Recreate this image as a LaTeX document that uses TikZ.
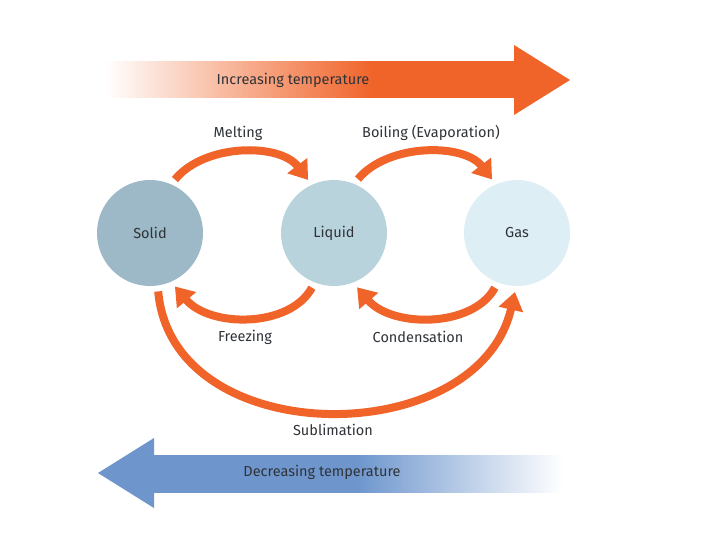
\documentclass[tikz,border=0pt]{standalone}
\usepackage{fontspec}
\setmainfont{Fira Sans}
\usetikzlibrary{arrows.meta}
\definecolor{org}{HTML}{F0642A}
\definecolor{blu}{HTML}{6E96CD}
\definecolor{txt}{HTML}{2F3338}
\definecolor{csolid}{HTML}{9DB8C6}
\definecolor{cliquid}{HTML}{B9D3DD}
\definecolor{cgas}{HTML}{DEEEF5}
\pgfdeclarehorizontalshading{incshade}{100bp}{color(0bp)=(white); color(25bp)=(white); color(57.5bp)=(org); color(100bp)=(org)}
\pgfdeclarehorizontalshading{decshade}{100bp}{color(0bp)=(blu); color(50bp)=(blu); color(75bp)=(white); color(100bp)=(white)}
\begin{document}
\begin{tikzpicture}[x=1pt,y=-1pt,
  lbl/.style={text=txt,font=\fontsize{14.5}{17}\selectfont},
  phase/.style={circle,minimum size=106pt,inner sep=0pt,outer sep=6pt,text=txt,font=\fontsize{14.5}{17}\selectfont},
  trans/.style={draw=org,line width=8pt,-{Triangle[width=24pt,length=18pt]}}]
\useasboundingbox[fill=white] (0,0) rectangle (720,540);
% increasing temperature arrow
\shade[shading=incshade,draw=none] (105,62) rectangle (516,98);
\fill[org] (514,45) -- (570,80) -- (514,115) -- cycle;
\node[lbl] (inc) at (293,80) {Increasing temperature};
% decreasing temperature arrow
\shade[shading=decshade,draw=none] (152,455) rectangle (562,492);
\fill[blu] (154,438) -- (98,473) -- (154,508) -- cycle;
\node[lbl] (dec) at (322,472) {Decreasing temperature};
% phases
\node[phase,fill=csolid] (solid) at (150,233) {Solid};
\node[phase,fill=cliquid] (liquid) at (334,233) {Liquid};
\node[phase,fill=cgas] (gas) at (517,233) {Gas};
% transitions
\draw[trans] (solid.65) .. controls (205,143) and (280,143) .. (liquid.116);
\draw[trans] (liquid.66) .. controls (388,143) and (464,143) .. (gas.115);
\draw[trans] (liquid.248) .. controls (290,328) and (210,328) .. (solid.295);
\draw[trans] (gas.248) .. controls (473,328) and (392,328) .. (liquid.293);
\draw[trans] (solid.278) .. controls (172,452) and (478,452) .. (gas.268);
% labels
\node[lbl] (melt) at (238,133) {Melting};
\node[lbl] (boil) at (431,133) {Boiling (Evaporation)};
\node[lbl] (freeze) at (245,337) {Freezing};
\node[lbl] (cond) at (418,337) {Condensation};
\node[lbl] (subl) at (333,430) {Sublimation};
\end{tikzpicture}
\end{document}
